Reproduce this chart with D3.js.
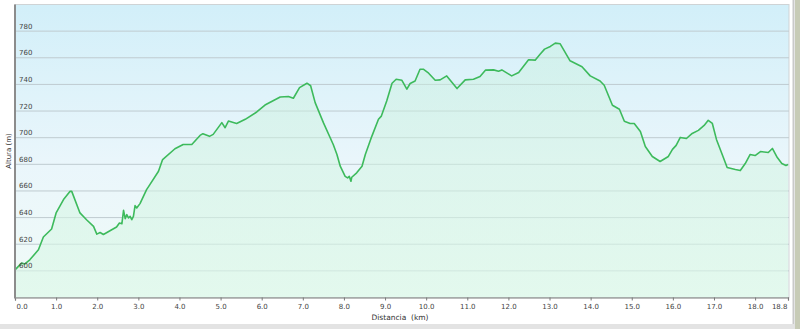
<!DOCTYPE html>
<html>
<head>
<meta charset="utf-8">
<script src="https://cdn.jsdelivr.net/npm/d3@7"></script>
<style>
  html, body { margin: 0; padding: 0; background: #fff; }
  svg { display: block; font-family: "DejaVu Sans", Verdana, sans-serif; }
</style>
</head>
<body>
<svg id="chart" width="800" height="329"></svg>
<script>
const distancia = [
  0.00, 0.16, 0.24, 0.36, 0.57, 0.69, 0.89, 1.00, 1.18, 1.34, 1.38, 1.58, 1.74, 1.91, 1.99,
  2.07, 2.15, 2.31, 2.47, 2.54, 2.60, 2.64, 2.68, 2.72, 2.76, 2.80, 2.84, 2.88, 2.92, 2.96,
  3.04, 3.20, 3.28, 3.49, 3.59, 3.89, 4.09, 4.30, 4.50, 4.57, 4.73, 4.82, 5.03, 5.11, 5.19,
  5.39, 5.60, 5.88, 6.08, 6.45, 6.65, 6.77, 6.92, 7.10, 7.19, 7.30, 7.50, 7.74, 7.83, 7.91,
  8.03, 8.09, 8.13, 8.17, 8.19, 8.31, 8.44, 8.52, 8.68, 8.84, 8.91, 9.04, 9.17, 9.27, 9.41,
  9.53, 9.61, 9.73, 9.85, 9.93, 10.06, 10.22, 10.34, 10.50, 10.63, 10.75, 10.95, 11.15, 11.31,
  11.44, 11.64, 11.76, 11.84, 12.08, 12.25, 12.49, 12.65, 12.77, 12.88, 13.02, 13.14, 13.26,
  13.50, 13.79, 13.99, 14.23, 14.33, 14.53, 14.70, 14.82, 14.96, 15.06, 15.21, 15.33, 15.50,
  15.69, 15.89, 15.99, 16.08, 16.18, 16.33, 16.47, 16.62, 16.76, 16.86, 16.96, 17.06, 17.20,
  17.32, 17.52, 17.64, 17.76, 17.88, 18.00, 18.13, 18.32, 18.42, 18.54, 18.65, 18.75, 18.80
];
const altura = [
  600.7, 605.8, 605.2, 608.3, 615.8, 625.4, 631.4, 643.5, 653.5, 659.7, 659.7, 643.5, 638.4, 633.4, 627.6,
  628.8, 627.3, 630.1, 632.9, 635.9, 635.4, 645.4, 639.2, 642.2, 639.7, 640.9, 638.4, 640.9, 649.0, 647.2,
  650.5, 661.0, 664.8, 674.8, 683.6, 691.7, 694.9, 694.9, 701.7, 703.0, 701.0, 702.5, 711.3, 707.5, 712.5,
  710.7, 713.8, 719.3, 724.5, 730.6, 730.9, 729.6, 737.6, 740.9, 739.0, 726.3, 711.3, 694.9, 687.4, 678.6,
  671.0, 669.8, 671.0, 667.3, 670.3, 673.6, 678.6, 687.4, 701.2, 713.8, 716.2, 727.5, 740.9, 743.9, 743.1,
  736.4, 740.7, 742.6, 751.4, 751.4, 748.4, 743.1, 743.4, 746.4, 741.4, 736.9, 743.4, 743.9, 745.9,
  750.7, 750.9, 749.9, 750.9, 746.4, 749.0, 758.5, 758.2, 762.7, 766.5, 768.5, 771.0, 770.5,
  757.7, 753.2, 746.4, 742.6, 739.4, 724.3, 721.3, 712.3, 710.7, 710.7, 704.7, 693.4, 685.9,
  682.1, 685.9, 691.2, 694.2, 700.2, 699.4, 703.2, 705.5, 709.2, 713.0, 710.7, 698.7, 687.4,
  677.6, 676.1, 675.3, 680.6, 687.4, 686.6, 689.6, 688.9, 691.9, 685.1, 680.6, 679.1, 679.8
];
const xTicks = [0, 1, 2, 3, 4, 5, 6, 7, 8, 9, 10, 11, 12, 13, 14, 15, 16, 17, 18, 18.8];
const yTicks = [600, 620, 640, 660, 680, 700, 720, 740, 760, 780];

const perfil = distancia.map((d, i) => ({ d, a: altura[i] }));

const svg = d3.select('#chart');
const plot = { left: 15, right: 789, top: 4.5, bottom: 297.5 };

const x = d3.scaleLinear().domain([0, 18.8]).range([plot.left, 788]);
const y = d3.scaleLinear().domain([580, 800]).range([plot.bottom, plot.top]);

const defs = svg.append('defs');
const bg = defs.append('linearGradient').attr('id', 'bg')
  .attr('x1', 0).attr('y1', 0).attr('x2', 0).attr('y2', 1);
bg.append('stop').attr('offset', '0%').attr('stop-color', '#d2eff9');
bg.append('stop').attr('offset', '55%').attr('stop-color', '#eaf6fb');
bg.append('stop').attr('offset', '100%').attr('stop-color', '#f0fbf7');

const fillG = defs.append('linearGradient').attr('id', 'fillG')
  .attr('x1', 0).attr('y1', 0).attr('x2', 0).attr('y2', 1);
fillG.append('stop').attr('offset', '0%').attr('stop-color', '#c8f0dc').attr('stop-opacity', 0.4);
fillG.append('stop').attr('offset', '100%').attr('stop-color', '#dcf8e8').attr('stop-opacity', 0.65);

// marco exterior
svg.append('rect').attr('x', 0).attr('y', 0).attr('width', 800).attr('height', 329).attr('fill', '#fff');
svg.append('rect').attr('x', 795).attr('y', 0).attr('width', 5).attr('height', 329).attr('fill', '#c7cbb6');
svg.append('rect').attr('x', 792.5).attr('y', 0).attr('width', 2).attr('height', 329).attr('fill', '#c9c9c9');
svg.append('rect').attr('x', 0).attr('y', 324).attr('width', 795).attr('height', 5).attr('fill', '#e3e3e3');

// fondo del área de trazado
svg.append('rect')
  .attr('x', plot.left).attr('y', plot.top)
  .attr('width', plot.right - plot.left).attr('height', plot.bottom - plot.top)
  .attr('fill', 'url(#bg)')
  .attr('stroke', '#cfd3d5').attr('stroke-width', 1);

// rejilla
svg.append('g')
  .selectAll('line')
  .data(yTicks)
  .join('line')
  .attr('x1', plot.left).attr('x2', plot.right)
  .attr('y1', d => y(d)).attr('y2', d => y(d))
  .attr('stroke', '#bfcbd0').attr('stroke-width', 1);

// área y línea
const area = d3.area().x(p => x(p.d)).y0(plot.bottom).y1(p => y(p.a));
const line = d3.line().x(p => x(p.d)).y(p => y(p.a));

svg.append('path').datum(perfil).attr('d', area).attr('fill', 'url(#fillG)');
svg.append('path').datum(perfil).attr('d', line)
  .attr('fill', 'none').attr('stroke', '#3dba5c').attr('stroke-width', 1.6)
  .attr('stroke-linejoin', 'round');

// etiquetas del eje Y dentro del área
svg.append('g')
  .selectAll('text')
  .data(yTicks)
  .join('text')
  .attr('x', 19).attr('y', d => y(d) - 2.5)
  .attr('font-size', 7).attr('fill', '#444')
  .text(d => d);

// eje X
const xAxis = d3.axisBottom(x)
  .tickValues(xTicks)
  .tickSize(3)
  .tickFormat(d3.format('.1f'));
const gx = svg.append('g').attr('transform', `translate(0,${plot.bottom})`).call(xAxis);
gx.select('.domain').attr('stroke', '#7a7a7a').attr('stroke-width', 1.2);
gx.selectAll('.tick line').attr('stroke', '#7a7a7a');
gx.selectAll('.tick text')
  .attr('font-size', 7).attr('fill', '#444').attr('dy', 0).attr('y', 11)
  .attr('font-family', '"DejaVu Sans", sans-serif');
// primera y última etiqueta se mantienen dentro del área
gx.selectAll('.tick').filter(d => d === 0).select('text').attr('text-anchor', 'start').attr('x', 1);
gx.selectAll('.tick').filter(d => d === 18.8).select('text').attr('text-anchor', 'end').attr('x', -1);

// eje Y (línea)
svg.append('line')
  .attr('x1', plot.left).attr('x2', plot.left).attr('y1', plot.top).attr('y2', plot.bottom + 1)
  .attr('stroke', '#8c8c8c').attr('stroke-width', 2);

// títulos
svg.append('text')
  .attr('x', 400).attr('y', 320).attr('text-anchor', 'middle')
  .attr('font-size', 7.5).attr('fill', '#333')
  .attr('xml:space', 'preserve')
  .text('Distancia  (km)');

svg.append('text')
  .attr('transform', 'translate(11,151) rotate(-90)')
  .attr('text-anchor', 'middle')
  .attr('font-size', 7).attr('fill', '#333')
  .text('Altura (m)');
</script>
</body>
</html>
